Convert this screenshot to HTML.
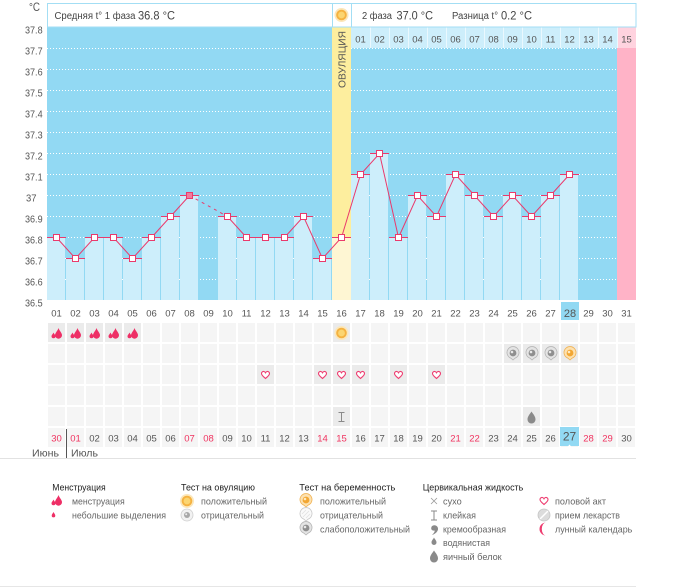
<!DOCTYPE html>
<html><head><meta charset="utf-8"><style>
html,body{margin:0;padding:0;background:#fff;}
svg{display:block;font-family:"Liberation Sans",sans-serif;}
</style></head><body>
<svg width="675" height="587" viewBox="0 0 675 587" xmlns="http://www.w3.org/2000/svg">
<defs>
<pattern id="cells" patternUnits="userSpaceOnUse" x="47" y="323" width="19" height="21">
<rect x="1" y="0" width="17" height="19" fill="#f5f5f5"/>
</pattern>
<g id="men"><path d="M2,-5 C3,-2 5.5,0 5.5,2.2 A3.5,3.5 0 0 1 -1.5,2.2 C-1.5,0 1,-2 2,-5Z" fill="#ee2f66"/><path d="M-3,-0.5 C-2.5,1 -1,2 -1,3.3 A2,2 0 0 1 -5,3.3 C-5,2 -3.5,1 -3,-0.5Z" fill="#ee2f66"/></g>
<g id="sun"><circle r="7" fill="#fbe7bb"/><circle r="5.3" fill="#f5b240"/><circle r="3.4" fill="#fbd571"/></g>
<g id="pg"><path d="M0,7 L-2,5.2 A6,6 0 1 1 2,5.2Z" fill="#e4e4e4" stroke="#b5b5b5" stroke-width="0.8"/><circle r="3.4" fill="#8f8f8f"/><circle cx="-1" cy="-1" r="1.3" fill="#e8e8e8"/></g>
<g id="po"><path d="M0,7 L-2,5.2 A6,6 0 1 1 2,5.2Z" fill="#fde1b0" stroke="#f0b252" stroke-width="0.8"/><circle r="3.4" fill="#f2a733"/><circle cx="-1" cy="-1" r="1.3" fill="#fde9c4"/></g>
<g id="hr"><path d="M0,3.5 C-1,2.5 -4,0.5 -4,-1.5 C-4,-3 -2.5,-3.8 -1.5,-3.5 C-0.8,-3.3 -0.3,-2.8 0,-2.2 C0.3,-2.8 0.8,-3.3 1.5,-3.5 C2.5,-3.8 4,-3 4,-1.5 C4,0.5 1,2.5 0,3.5Z" fill="#fff" stroke="#ee3d70" stroke-width="1.1"/></g>
<g id="stk"><path d="M-3,-4.5 H3 M0,-4.5 V4.5 M-3,4.5 H3" stroke="#8a8a8a" stroke-width="1" fill="none"/></g>
<g id="bigdrop"><path d="M0,-6 C2,-3 4,-1 4,2 A4,4 0 0 1 -4,2 C-4,-1 -2,-3 0,-6Z" fill="#8a8a8a"/></g>
</defs>

<rect x="47" y="27" width="570" height="273" fill="#92d9f3"/>
<rect x="617" y="27" width="19" height="273" fill="#ffb3c7"/>
<rect x="332" y="27" width="19" height="210" fill="#fdee9e"/>
<rect x="332" y="237" width="19" height="63" fill="#fef6d3"/>

<g stroke="#ffffff" stroke-width="1" stroke-dasharray="1,2">
<path d="M47,48.5H332M351,48.5H617 M47,69.5H332M351,69.5H617 M47,90.5H332M351,90.5H617 M47,111.5H332M351,111.5H617 M47,132.5H332M351,132.5H617 M47,153.5H332M351,153.5H617 M47,174.5H332M351,174.5H617 M47,195.5H332M351,195.5H617 M47,216.5H332M351,216.5H617 M47,237.5H332M351,237.5H617 M47,258.5H332M351,258.5H617 M47,279.5H332M351,279.5H617"/>
</g>

<rect x="351" y="27" width="266" height="21" fill="#cdeefb"/>
<rect x="617" y="27" width="19" height="21" fill="#ffd3df"/>
<g stroke="#eaf8fe" stroke-width="1">
<path d="M370.5,27V48M389.5,27V48M408.5,27V48M427.5,27V48M446.5,27V48M465.5,27V48M484.5,27V48M503.5,27V48M522.5,27V48M541.5,27V48M560.5,27V48M579.5,27V48M598.5,27V48M617.5,27V48"/>
</g>
<g font-size="9.5" fill="#555" text-anchor="middle">
<text x="360.5" y="42.5">01</text><text x="379.5" y="42.5">02</text><text x="398.5" y="42.5">03</text><text x="417.5" y="42.5">04</text><text x="436.5" y="42.5">05</text><text x="455.5" y="42.5">06</text><text x="474.5" y="42.5">07</text><text x="493.5" y="42.5">08</text><text x="512.5" y="42.5">09</text><text x="531.5" y="42.5">10</text><text x="550.5" y="42.5">11</text><text x="569.5" y="42.5">12</text><text x="588.5" y="42.5">13</text><text x="607.5" y="42.5">14</text><text x="626.5" y="42.5">15</text>
</g>

<g fill="#cdeefb">
<rect x="47" y="237" width="18" height="63"/>
<rect x="66" y="258" width="18" height="42"/>
<rect x="85" y="237" width="18" height="63"/>
<rect x="104" y="237" width="18" height="63"/>
<rect x="123" y="258" width="18" height="42"/>
<rect x="142" y="237" width="18" height="63"/>
<rect x="161" y="216" width="18" height="84"/>
<rect x="180" y="195" width="18" height="105"/>
<rect x="218" y="216" width="18" height="84"/>
<rect x="237" y="237" width="18" height="63"/>
<rect x="256" y="237" width="18" height="63"/>
<rect x="275" y="237" width="18" height="63"/>
<rect x="294" y="216" width="18" height="84"/>
<rect x="313" y="258" width="18" height="42"/>
<rect x="351" y="174" width="18" height="126"/>
<rect x="370" y="153" width="18" height="147"/>
<rect x="389" y="237" width="18" height="63"/>
<rect x="408" y="195" width="18" height="105"/>
<rect x="427" y="216" width="18" height="84"/>
<rect x="446" y="174" width="18" height="126"/>
<rect x="465" y="195" width="18" height="105"/>
<rect x="484" y="216" width="18" height="84"/>
<rect x="503" y="195" width="18" height="105"/>
<rect x="522" y="216" width="18" height="84"/>
<rect x="541" y="195" width="18" height="105"/>
<rect x="560" y="174" width="18" height="126"/>
</g>

<g stroke="#ea3a6c" stroke-width="1">
<path d="M47,237.5h19 M66,258.5h19 M85,237.5h19 M104,237.5h19 M123,258.5h19 M142,237.5h19 M161,216.5h19 M180,195.5h19 M218,216.5h19 M237,237.5h19 M256,237.5h19 M275,237.5h19 M294,216.5h19 M313,258.5h19 M332,237.5h19 M351,174.5h19 M370,153.5h19 M389,237.5h19 M408,195.5h19 M427,216.5h19 M446,174.5h19 M465,195.5h19 M484,216.5h19 M503,195.5h19 M522,216.5h19 M541,195.5h19 M560,174.5h19"/>
</g>

<g fill="none" stroke="#ea3a6c" stroke-width="1">
<polyline points="56.5,237.5 75.5,258.5 94.5,237.5 113.5,237.5 132.5,258.5 151.5,237.5 170.5,216.5 189.5,195.5"/>
<line x1="189.5" y1="195.5" x2="227.5" y2="216.5" stroke-dasharray="3,4"/>
<polyline points="227.5,216.5 246.5,237.5 265.5,237.5 284.5,237.5 303.5,216.5 322.5,258.5 341.5,237.5 360.5,174.5 379.5,153.5 398.5,237.5 417.5,195.5 436.5,216.5 455.5,174.5 474.5,195.5 493.5,216.5 512.5,195.5 531.5,216.5 550.5,195.5 569.5,174.5"/>
</g>
<g fill="#fff" stroke="#ea3a6c" stroke-width="1">
<rect x="53.5" y="234.5" width="6" height="6"/>
<rect x="72.5" y="255.5" width="6" height="6"/>
<rect x="91.5" y="234.5" width="6" height="6"/>
<rect x="110.5" y="234.5" width="6" height="6"/>
<rect x="129.5" y="255.5" width="6" height="6"/>
<rect x="148.5" y="234.5" width="6" height="6"/>
<rect x="167.5" y="213.5" width="6" height="6"/>
<rect x="186.5" y="192.5" width="6" height="6" fill="#f27c9c"/>
<rect x="224.5" y="213.5" width="6" height="6"/>
<rect x="243.5" y="234.5" width="6" height="6"/>
<rect x="262.5" y="234.5" width="6" height="6"/>
<rect x="281.5" y="234.5" width="6" height="6"/>
<rect x="300.5" y="213.5" width="6" height="6"/>
<rect x="319.5" y="255.5" width="6" height="6"/>
<rect x="338.5" y="234.5" width="6" height="6"/>
<rect x="357.5" y="171.5" width="6" height="6"/>
<rect x="376.5" y="150.5" width="6" height="6"/>
<rect x="395.5" y="234.5" width="6" height="6"/>
<rect x="414.5" y="192.5" width="6" height="6"/>
<rect x="433.5" y="213.5" width="6" height="6"/>
<rect x="452.5" y="171.5" width="6" height="6"/>
<rect x="471.5" y="192.5" width="6" height="6"/>
<rect x="490.5" y="213.5" width="6" height="6"/>
<rect x="509.5" y="192.5" width="6" height="6"/>
<rect x="528.5" y="213.5" width="6" height="6"/>
<rect x="547.5" y="192.5" width="6" height="6"/>
<rect x="566.5" y="171.5" width="6" height="6"/>
</g>

<text transform="translate(345.5,88) rotate(-90)" font-size="10" fill="#555" textLength="57" lengthAdjust="spacingAndGlyphs">ОВУЛЯЦИЯ</text>

<rect x="47.5" y="3.5" width="588.5" height="23.5" fill="#fff" stroke="#a3def4" stroke-width="1"/>
<path d="M332.5,3.5V27 M351.5,3.5V27" stroke="#a3def4" stroke-width="1"/>
<use href="#sun" x="341.5" y="15"/>
<text x="54.5" y="19" font-size="10" fill="#444" textLength="81" lengthAdjust="spacingAndGlyphs">Средняя t° 1 фаза</text>
<text x="138" y="19.5" font-size="12" fill="#444" textLength="37" lengthAdjust="spacingAndGlyphs">36.8 °C</text>
<text x="362" y="19" font-size="10" fill="#444" textLength="30" lengthAdjust="spacingAndGlyphs">2 фаза</text>
<text x="396.5" y="19.5" font-size="12" fill="#444" textLength="36.5" lengthAdjust="spacingAndGlyphs">37.0 °C</text>
<text x="452" y="19" font-size="10" fill="#444" textLength="46" lengthAdjust="spacingAndGlyphs">Разница t°</text>
<text x="501" y="19.5" font-size="12" fill="#444" textLength="31" lengthAdjust="spacingAndGlyphs">0.2 °C</text>

<text x="29" y="11" font-size="11.5" fill="#555" textLength="11" lengthAdjust="spacingAndGlyphs">°C</text>
<g font-size="10" fill="#555">
<text x="25" y="33.5" textLength="17.6" lengthAdjust="spacingAndGlyphs">37.8</text>
<text x="25" y="54.5" textLength="17.6" lengthAdjust="spacingAndGlyphs">37.7</text>
<text x="25" y="75.5" textLength="17.6" lengthAdjust="spacingAndGlyphs">37.6</text>
<text x="25" y="96.5" textLength="17.6" lengthAdjust="spacingAndGlyphs">37.5</text>
<text x="25" y="117.5" textLength="17.6" lengthAdjust="spacingAndGlyphs">37.4</text>
<text x="25" y="138.5" textLength="17.6" lengthAdjust="spacingAndGlyphs">37.3</text>
<text x="25" y="159.5" textLength="17.6" lengthAdjust="spacingAndGlyphs">37.2</text>
<text x="25" y="180.5" textLength="17.6" lengthAdjust="spacingAndGlyphs">37.1</text>
<text x="26" y="201.5" textLength="10.5" lengthAdjust="spacingAndGlyphs">37</text>
<text x="25" y="222.5" textLength="17.6" lengthAdjust="spacingAndGlyphs">36.9</text>
<text x="25" y="243.5" textLength="17.6" lengthAdjust="spacingAndGlyphs">36.8</text>
<text x="25" y="264.5" textLength="17.6" lengthAdjust="spacingAndGlyphs">36.7</text>
<text x="25" y="285.5" textLength="17.6" lengthAdjust="spacingAndGlyphs">36.6</text>
<text x="25" y="306.5" textLength="17.6" lengthAdjust="spacingAndGlyphs">36.5</text>
</g>

<rect x="561" y="302" width="18" height="18" fill="#92d9f3"/>
<g font-size="9.5" fill="#555" text-anchor="middle">
<text x="56.5" y="316.5">01</text><text x="75.5" y="316.5">02</text><text x="94.5" y="316.5">03</text><text x="113.5" y="316.5">04</text><text x="132.5" y="316.5">05</text><text x="151.5" y="316.5">06</text><text x="170.5" y="316.5">07</text><text x="189.5" y="316.5">08</text><text x="208.5" y="316.5">09</text><text x="227.5" y="316.5">10</text><text x="246.5" y="316.5">11</text><text x="265.5" y="316.5">12</text><text x="284.5" y="316.5">13</text><text x="303.5" y="316.5">14</text><text x="322.5" y="316.5">15</text><text x="341.5" y="316.5">16</text><text x="360.5" y="316.5">17</text><text x="379.5" y="316.5">18</text><text x="398.5" y="316.5">19</text><text x="417.5" y="316.5">20</text><text x="436.5" y="316.5">21</text><text x="455.5" y="316.5">22</text><text x="474.5" y="316.5">23</text><text x="493.5" y="316.5">24</text><text x="512.5" y="316.5">25</text><text x="531.5" y="316.5">26</text><text x="550.5" y="316.5">27</text><text x="570" y="317" font-size="11">28</text><text x="588.5" y="316.5">29</text><text x="607.5" y="316.5">30</text><text x="626.5" y="316.5">31</text>
</g>

<rect x="47" y="323" width="589" height="126" fill="url(#cells)"/>
<g fill="#ebebeb">
<rect x="48" y="323" width="17" height="19"/><rect x="67" y="323" width="17" height="19"/><rect x="86" y="323" width="17" height="19"/><rect x="105" y="323" width="17" height="19"/><rect x="124" y="323" width="17" height="19"/><rect x="333" y="323" width="17" height="19"/>
<rect x="504" y="344" width="17" height="19"/><rect x="523" y="344" width="17" height="19"/><rect x="542" y="344" width="17" height="19"/><rect x="561" y="344" width="17" height="19"/>
<rect x="257" y="365" width="17" height="19"/><rect x="314" y="365" width="17" height="19"/><rect x="333" y="365" width="17" height="19"/><rect x="352" y="365" width="17" height="19"/><rect x="390" y="365" width="17" height="19"/><rect x="428" y="365" width="17" height="19"/>
<rect x="333" y="407" width="17" height="19"/><rect x="523" y="407" width="17" height="19"/>
</g>
<use href="#men" x="56.5" y="333"/><use href="#men" x="75.5" y="333"/><use href="#men" x="94.5" y="333"/><use href="#men" x="113.5" y="333"/><use href="#men" x="132.5" y="333"/>
<use href="#sun" x="341.5" y="333"/>
<use href="#pg" x="513" y="353"/><use href="#pg" x="532" y="353"/><use href="#pg" x="551" y="353"/><use href="#po" x="570" y="353"/>
<use href="#hr" x="265.5" y="375"/><use href="#hr" x="322.5" y="375"/><use href="#hr" x="341.5" y="375"/><use href="#hr" x="360.5" y="375"/><use href="#hr" x="398.5" y="375"/><use href="#hr" x="436.5" y="375"/>
<use href="#stk" x="341.5" y="417"/>
<use href="#bigdrop" x="531.5" y="417.5"/>

<rect x="560" y="427" width="19" height="19" fill="#92d9f3"/>
<path d="M567.5,447 L569.5,444.5 L571.5,447Z" fill="#fff"/>
<g font-size="9.5" fill="#555" text-anchor="middle">
<text x="56.5" y="441.5" fill="#f0325f">30</text><text x="75.5" y="441.5" fill="#f0325f">01</text><text x="94.5" y="441.5">02</text><text x="113.5" y="441.5">03</text><text x="132.5" y="441.5">04</text><text x="151.5" y="441.5">05</text><text x="170.5" y="441.5">06</text><text x="189.5" y="441.5" fill="#f0325f">07</text><text x="208.5" y="441.5" fill="#f0325f">08</text><text x="227.5" y="441.5">09</text><text x="246.5" y="441.5">10</text><text x="265.5" y="441.5">11</text><text x="284.5" y="441.5">12</text><text x="303.5" y="441.5">13</text><text x="322.5" y="441.5" fill="#f0325f">14</text><text x="341.5" y="441.5" fill="#f0325f">15</text><text x="360.5" y="441.5">16</text><text x="379.5" y="441.5">17</text><text x="398.5" y="441.5">18</text><text x="417.5" y="441.5">19</text><text x="436.5" y="441.5">20</text><text x="455.5" y="441.5" fill="#f0325f">21</text><text x="474.5" y="441.5" fill="#f0325f">22</text><text x="493.5" y="441.5">23</text><text x="512.5" y="441.5">24</text><text x="531.5" y="441.5">25</text><text x="550.5" y="441.5">26</text><text x="569.5" y="440.5" font-size="12">27</text><text x="588.5" y="441.5" fill="#f0325f">28</text><text x="607.5" y="441.5" fill="#f0325f">29</text><text x="626.5" y="441.5">30</text>
</g>

<text x="32" y="456.5" font-size="10.5" fill="#555" textLength="27" lengthAdjust="spacingAndGlyphs">Июнь</text>
<text x="71" y="456.5" font-size="10.5" fill="#555" textLength="27" lengthAdjust="spacingAndGlyphs">Июль</text>
<path d="M66.5,429V458" stroke="#555" stroke-width="1"/>
<path d="M0,458.5H636" stroke="#e2e2e2" stroke-width="1"/>
<path d="M0,586.5H636" stroke="#e6e6e6" stroke-width="1"/>

<g font-size="9.5" fill="#222">
<text x="52.3" y="490.5" textLength="53.4" lengthAdjust="spacingAndGlyphs">Менструация</text>
<text x="181" y="490.5" textLength="74" lengthAdjust="spacingAndGlyphs">Тест на овуляцию</text>
<text x="299.3" y="490.5" textLength="96" lengthAdjust="spacingAndGlyphs">Тест на беременность</text>
<text x="422.7" y="490.5" textLength="100.6" lengthAdjust="spacingAndGlyphs">Цервикальная жидкость</text>
</g>
<g font-size="9.5" fill="#666">
<text x="72" y="504.5" textLength="52.7" lengthAdjust="spacingAndGlyphs">менструация</text>
<text x="72" y="518.5" textLength="94" lengthAdjust="spacingAndGlyphs">небольшие выделения</text>
<text x="201" y="504.5" textLength="66" lengthAdjust="spacingAndGlyphs">положительный</text>
<text x="201" y="518.5" textLength="63" lengthAdjust="spacingAndGlyphs">отрицательный</text>
<text x="320" y="504.5" textLength="66" lengthAdjust="spacingAndGlyphs">положительный</text>
<text x="320" y="518.5" textLength="63" lengthAdjust="spacingAndGlyphs">отрицательный</text>
<text x="320" y="532.5" textLength="90" lengthAdjust="spacingAndGlyphs">слабоположительный</text>
<text x="443" y="504.5" textLength="18.7" lengthAdjust="spacingAndGlyphs">сухо</text>
<text x="443" y="518.5" textLength="33" lengthAdjust="spacingAndGlyphs">клейкая</text>
<text x="443" y="532.5" textLength="63" lengthAdjust="spacingAndGlyphs">кремообразная</text>
<text x="443" y="546" textLength="47" lengthAdjust="spacingAndGlyphs">водянистая</text>
<text x="443" y="560" textLength="58.7" lengthAdjust="spacingAndGlyphs">яичный белок</text>
<text x="555" y="504.5" textLength="51" lengthAdjust="spacingAndGlyphs">половой акт</text>
<text x="555" y="518.5" textLength="65" lengthAdjust="spacingAndGlyphs">прием лекарств</text>
<text x="555" y="532.5" textLength="77.3" lengthAdjust="spacingAndGlyphs">лунный календарь</text>
</g>
<use href="#men" x="56.5" y="500"/>
<path d="M53.5,512 C54.2,513.5 55.3,514.3 55.3,515.6 A1.8,1.8 0 0 1 51.7,515.6 C51.7,514.3 52.8,513.5 53.5,512Z" fill="#ee2f66"/>
<use href="#sun" x="187" y="501"/>
<g transform="translate(187,515)"><circle r="6" fill="#f2f2f2" stroke="#cfcfcf" stroke-width="0.8"/><circle r="3" fill="#a8a8a8"/><circle cx="-0.8" cy="-0.8" r="1" fill="#eee"/></g>
<use href="#po" x="306" y="500"/>
<g transform="translate(306,514)"><path d="M0,7 L-2,5.2 A6,6 0 1 1 2,5.2Z" fill="#fafafa" stroke="#c8c8c8" stroke-width="0.8"/><path d="M-3,3 L3,-3 M-4,0 L0,-4 M0,4 L4,0" stroke="#e0e0e0" stroke-width="0.8"/></g>
<use href="#pg" x="306" y="528"/>
<path d="M431,498 L437,504 M437,498 L431,504" stroke="#999" stroke-width="0.8"/>
<use href="#stk" x="434" y="515.5"/>
<path d="M432,526 C435,524 438.5,526 438,529.5 C437.5,532 435,534 432,535 C434,533 435,531.5 434.5,530.5 C432,531 430,529 432,526Z" fill="#8a8a8a"/>
<path d="M434,537.5 C435,539.5 436.5,540.5 436.5,542.5 A2.5,2.5 0 0 1 431.5,542.5 C431.5,540.5 433,539.5 434,537.5Z" fill="#8a8a8a"/>
<use href="#bigdrop" x="434" y="556.5"/>
<use href="#hr" x="544" y="501"/>
<g transform="translate(544,515)"><circle r="6" fill="#dcdcdc" stroke="#c4c4c4" stroke-width="0.8"/><path d="M-4,4 L4,-4" stroke="#fff" stroke-width="1.5"/></g>
<path d="M546,522.5 A6.5,6.5 0 1 0 546,535.5 A4.2,6.5 0 0 1 546,522.5Z" fill="#ee3d70"/>
</svg>
</body></html>
